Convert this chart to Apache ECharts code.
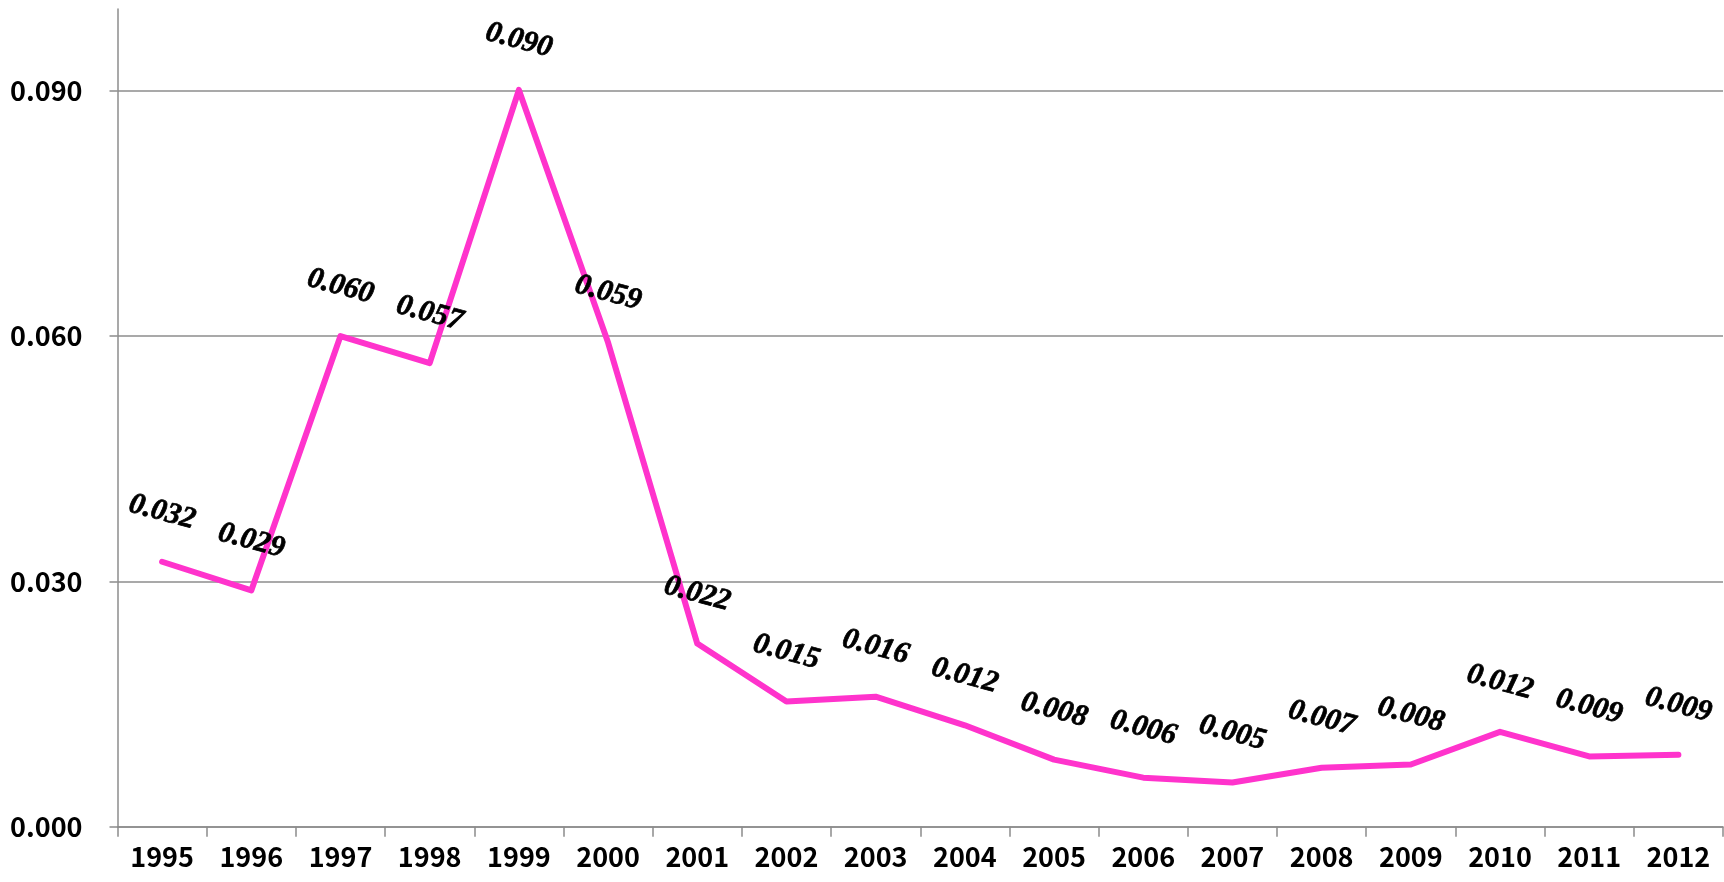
<!DOCTYPE html>
<html>
<head>
<meta charset="utf-8">
<script src="https://cdn.jsdelivr.net/npm/echarts@6/dist/echarts.min.js"></script>
<style>
  html, body { margin: 0; padding: 0; background: #fff; }
  #chart { width: 1724px; height: 882px; }
</style>
</head>
<body>
<div id="chart"></div>
<script>
// Years along the horizontal axis
const years = ['1995', '1996', '1997', '1998', '1999', '2000', '2001', '2002', '2003',
  '2004', '2005', '2006', '2007', '2008', '2009', '2010', '2011', '2012'];

// Yearly values (labels show them rounded to three decimals)
const values = [0.0324, 0.0289, 0.0600, 0.0567, 0.0901, 0.0592, 0.0224, 0.0153, 0.0159,
  0.0124, 0.0082, 0.0060, 0.0054, 0.0072, 0.0076, 0.0116, 0.0086, 0.0088];

// Value axis range and step
const yMin = 0;
const yMax = 0.1;
const yStep = 0.03;

const axisGray = '#8c8c8c';
const sansFont = '"Noto Sans CJK KR", "Open Sans", sans-serif';

const chart = echarts.init(document.getElementById('chart'));
chart.setOption({
  animation: false,
  backgroundColor: '#ffffff',
  grid: { left: 117.5, right: 1, top: 9, bottom: 55.3, containLabel: false },
  xAxis: {
    type: 'category',
    data: years,
    boundaryGap: true,
    axisLine: { lineStyle: { color: axisGray, width: 1.5 } },
    axisTick: { show: true, length: 10, inside: false, lineStyle: { color: axisGray, width: 1.5 } },
    axisLabel: {
      margin: 17,
      color: '#000',
      fontFamily: sansFont,
      fontWeight: 'bold',
      fontSize: 27
    },
    splitLine: { show: false }
  },
  yAxis: {
    type: 'value',
    min: yMin,
    max: yMax,
    interval: yStep,
    axisLine: { show: true, lineStyle: { color: axisGray, width: 1.5 } },
    axisTick: { show: true, length: 8, inside: false, lineStyle: { color: axisGray, width: 1.5 } },
    axisLabel: {
      margin: 35,
      showMaxLabel: false,
      color: '#000',
      fontFamily: sansFont,
      fontWeight: 'bold',
      fontSize: 27,
      formatter: v => v.toFixed(3)
    },
    splitLine: { show: true, showMaxLine: false, lineStyle: { color: axisGray, width: 1.5 } }
  },
  series: [{
    type: 'line',
    data: values,
    symbol: 'circle',
    symbolSize: 1,
    showSymbol: true,
    itemStyle: { opacity: 0 },
    lineStyle: { color: '#ff33cc', width: 6, cap: 'round', join: 'round' },
    labelLayout: { hideOverlap: false },
    label: {
      show: true,
      position: 'top',
      distance: 49,
      rotate: -15,
      align: 'center',
      verticalAlign: 'middle',
      color: '#000',
      opacity: 1,
      fontFamily: '"Liberation Serif", "Times New Roman", serif',
      fontStyle: 'italic',
      fontWeight: 'bold',
      fontSize: 30,
      textBorderColor: '#000',
      textBorderWidth: 0.7,
      formatter: p => p.value.toFixed(3)
    }
  }]
});
</script>
</body>
</html>
